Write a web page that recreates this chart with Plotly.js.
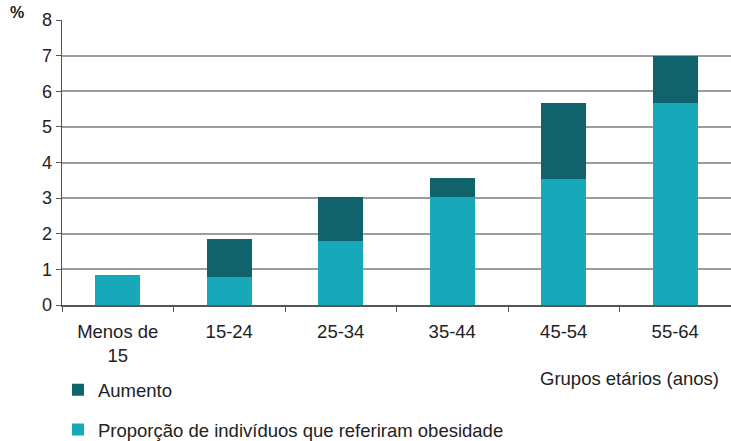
<!DOCTYPE html>
<html><head><meta charset="utf-8">
<script src="https://cdn.plot.ly/plotly-3.0.1.min.js"></script>
<style>body{margin:0;background:#fff}#c{width:731px;height:441px}</style>
</head><body><div id="c"></div>
<script>
const categories = ["Menos de<br>15", "15-24", "25-34", "35-44", "45-54", "55-64"];
const proporcao = [0.83, 0.80, 1.81, 3.03, 3.53, 5.68];
const aumento = [0, 1.04, 1.22, 0.53, 2.15, 1.30];
const yTicks = [0, 1, 2, 3, 4, 5, 6, 7, 8];

const sans = '"Liberation Sans", Arial, sans-serif';

const traces = [
  {type: 'bar', name: 'Proporção de indivíduos que referiram obesidade', x: categories, y: proporcao,
   marker: {color: '#17A9BA'}, legend: 'legend2', hoverinfo: 'skip'},
  {type: 'bar', name: 'Aumento', x: categories, y: aumento,
   marker: {color: '#10636B'}, legend: 'legend', hoverinfo: 'skip'}
];

const legendCommon = {orientation: 'v', xref: 'paper', yref: 'container', xanchor: 'left', yanchor: 'middle',
  font: {family: sans, size: 18.5, color: '#222'}, bgcolor: 'rgba(0,0,0,0)', itemwidth: 30, tracegroupgap: 0};

const layout = {
  width: 731, height: 441,
  margin: {l: 62, r: 0, t: 20, b: 136},
  barmode: 'stack', bargap: 0.6,
  paper_bgcolor: '#fff', plot_bgcolor: '#fff',
  showlegend: true,
  legend: Object.assign({}, legendCommon, {x: -0.006, y: 0.115}),
  legend2: Object.assign({}, legendCommon, {x: -0.006, y: 0.025}),
  xaxis: {type: 'category', tickson: 'boundaries', ticks: 'outside', ticklen: 5, tickcolor: '#555',
    ticklabelstandoff: 9,
    showline: true, linecolor: '#555', linewidth: 1.5, showgrid: false, zeroline: false,
    tickfont: {family: sans, size: 18.5, color: '#222'}, fixedrange: true},
  yaxis: {range: [0, 8], tickvals: yTicks, ticks: 'outside', ticklen: 5, tickcolor: '#555',
    showline: true, linecolor: '#555', linewidth: 1.5, gridcolor: '#9c9c9c', gridwidth: 2,
    zeroline: false, tickfont: {family: sans, size: 18, color: '#222'}, fixedrange: true},
  annotations: [
    {text: '<b>%</b>', xref: 'paper', yref: 'paper', x: -0.068, y: 1.028, xanchor: 'center', yanchor: 'middle',
     showarrow: false, font: {family: sans, size: 16, color: '#222'}},
    {text: 'Grupos etários (anos)', xref: 'paper', yref: 'paper', x: 0.985, y: (305 - 378) / 285,
     xanchor: 'right', yanchor: 'middle', showarrow: false, font: {family: sans, size: 18.5, color: '#222'}}
  ]
};

Plotly.newPlot('c', traces, layout, {displayModeBar: false, staticPlot: true});
</script></body></html>
